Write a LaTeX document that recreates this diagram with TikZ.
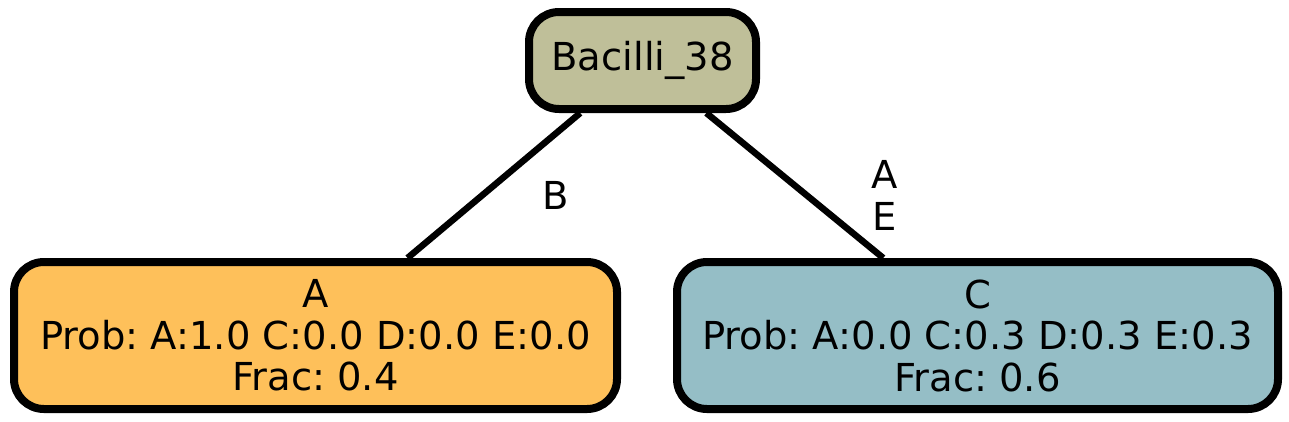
\documentclass[tikz,border=0pt]{standalone}
\usepackage{fontspec}
\setmainfont{DejaVu Sans}
\frenchspacing
\definecolor{rootfill}{RGB}{191,191,153}
\definecolor{afill}{RGB}{254,192,90}
\definecolor{cfill}{RGB}{149,190,198}
\tikzset{
  treebox/.style={draw=black, line width=8pt, rounded corners=30pt, align=center,
    inner sep=0pt, font=\fontsize{38.5}{41.5}\selectfont},
  treeedge/.style={line width=6.5pt, draw=black},
  edgelabel/.style={align=center, inner sep=0pt, font=\fontsize{38.5}{42}\selectfont}
}
\begin{document}
\begin{tikzpicture}[x=1pt,y=-1pt]
\useasboundingbox (0,0) rectangle (1289,421);
\node[treebox, fill=rootfill, minimum width=227pt, minimum height=97pt] (root) at (642.5,60.5) {Bacilli\_38};
\node[treebox, fill=afill, minimum width=603pt, minimum height=147pt] (a) at (315.5,335.5) {A\\Prob: A:1.0 C:0.0 D:0.0 E:0.0\\Frac: 0.4};
\node[treebox, fill=cfill, minimum width=601pt, minimum height=147pt] (c) at (977.5,335.5) {C\\Prob: A:0.0 C:0.3 D:0.3 E:0.3\\Frac: 0.6};
\draw[treeedge] (root) -- (a);
\draw[treeedge] (root) -- (c);
\node[edgelabel] (lb) at (556,195) {B};
\node[edgelabel] (lae) at (885,195) {A\\E};
\end{tikzpicture}
\end{document}
